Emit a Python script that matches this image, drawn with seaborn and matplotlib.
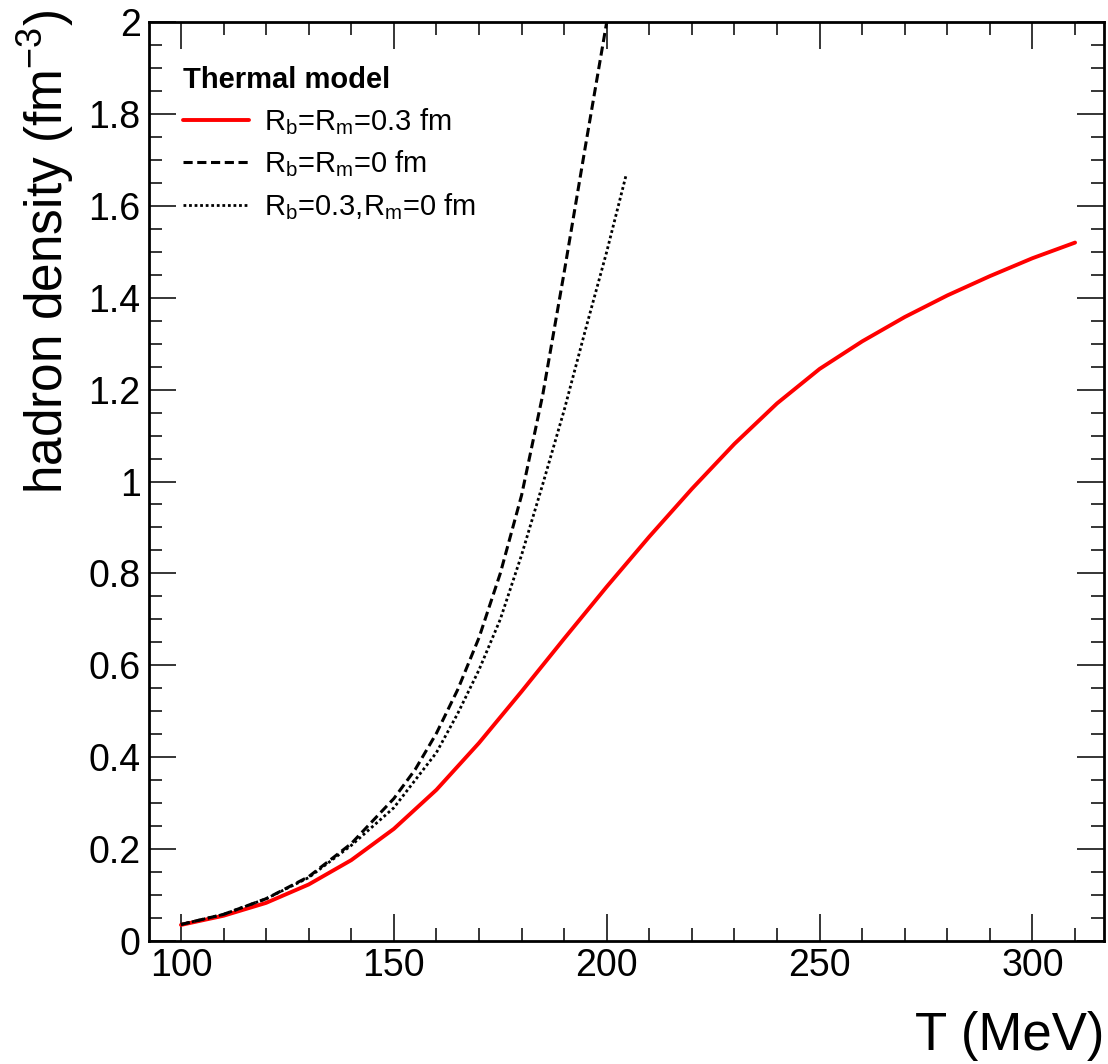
import numpy as np
import pandas as pd
import matplotlib
matplotlib.use("Agg")
import matplotlib.pyplot as plt
import seaborn as sns
from matplotlib.ticker import MultipleLocator, FuncFormatter

# Rb = Rm = 0.3 fm (red solid)
T_red = [100, 110, 120, 130, 140, 150, 160, 170, 180, 190, 200, 210, 220,
         230, 240, 250, 260, 270, 280, 290, 300, 310]
n_red = [0.035, 0.055, 0.083, 0.123, 0.176, 0.244, 0.329, 0.431, 0.543, 0.658,
         0.771, 0.880, 0.984, 1.082, 1.170, 1.245, 1.305, 1.358, 1.405, 1.447,
         1.486, 1.520]

# Rb = Rm = 0 fm (black dashed)
T_dash = [100, 110, 120, 130, 140, 150, 155, 160, 165, 170, 175, 180, 185,
          190, 195, 200]
n_dash = [0.036, 0.058, 0.092, 0.140, 0.212, 0.310, 0.373, 0.452, 0.547,
          0.660, 0.800, 0.970, 1.190, 1.455, 1.730, 2.000]

# Rb = 0.3, Rm = 0 fm (black dotted)
T_dot = [100, 110, 120, 130, 140, 150, 160, 165, 170, 175, 180, 185, 190,
         195, 200, 204.5]
n_dot = [0.036, 0.058, 0.092, 0.138, 0.208, 0.290, 0.410, 0.495, 0.590, 0.700,
         0.840, 0.995, 1.155, 1.330, 1.500, 1.665]

labels = [r"R$_{\mathrm{b}}$=R$_{\mathrm{m}}$=0.3 fm",
          r"R$_{\mathrm{b}}$=R$_{\mathrm{m}}$=0 fm",
          r"R$_{\mathrm{b}}$=0.3,R$_{\mathrm{m}}$=0 fm"]
x_ticks = [100, 150, 200, 250, 300]
y_ticks = [0, 0.2, 0.4, 0.6, 0.8, 1.0, 1.2, 1.4, 1.6, 1.8, 2.0]

sns.set_style("white")
plt.rcParams["font.family"] = ["Liberation Sans", "DejaVu Sans"]
plt.rcParams["mathtext.fontset"] = "custom"
plt.rcParams["mathtext.rm"] = "Liberation Sans"
plt.rcParams["mathtext.it"] = "Liberation Sans:italic"
plt.rcParams["mathtext.bf"] = "Liberation Sans:bold"
for key in ["text.color", "axes.labelcolor", "xtick.color", "ytick.color"]:
    plt.rcParams[key] = "black"

fig = plt.figure(figsize=(11.08, 10.64), dpi=100)
ax = fig.add_axes([0.1345, 0.1156, 0.8619, 0.8637])

sns.lineplot(x=T_red, y=n_red, ax=ax, color="red", linewidth=2.8,
             label=labels[0])
sns.lineplot(x=T_dash, y=n_dash, ax=ax, color="black", linewidth=2.2,
             linestyle=(0, (3, 1.5)), label=labels[1])
sns.lineplot(x=T_dot, y=n_dot, ax=ax, color="black", linewidth=2.0,
             linestyle=(0, (1, 1)), label=labels[2])

ax.set_xlim(92.5, 316.8)
ax.set_ylim(0, 2)

ax.set_xticks(x_ticks)
ax.set_yticks(y_ticks)
ax.xaxis.set_minor_locator(MultipleLocator(10))
ax.yaxis.set_minor_locator(MultipleLocator(0.05))
ax.yaxis.set_major_formatter(FuncFormatter(lambda v, p: f"{v:g}"))

ax.tick_params(which="both", direction="in", top=True, right=True,
               bottom=True, left=True, color="black")
ax.tick_params(which="major", length=19.5, width=1.1, labelsize=27, pad=5)
ax.tick_params(which="minor", length=9.7, width=1.1)
ax.tick_params(axis="y", which="major", pad=6)

for s in ax.spines.values():
    s.set_linewidth(2.0)
    s.set_color("black")
    s.set_visible(True)

ax.set_xlabel("T (MeV)", fontsize=38, loc="right")
ax.xaxis.set_label_coords(1.0, -0.076)
ax.set_ylabel(r"hadron density (fm$^{\mathrm{-3}}$)", fontsize=37, loc="top")
ax.yaxis.set_label_coords(-0.076, 1.013)

leg = ax.legend(title="Thermal model", loc="upper left",
                bbox_to_anchor=(0.0356, 0.952), frameon=False, fontsize=21,
                title_fontsize=21, handlelength=2.25, handletextpad=0.52,
                labelspacing=0.4, borderpad=0, borderaxespad=0,
                alignment="left")
leg.get_title().set_fontweight("bold")

fig.savefig("out.png", dpi=100)
